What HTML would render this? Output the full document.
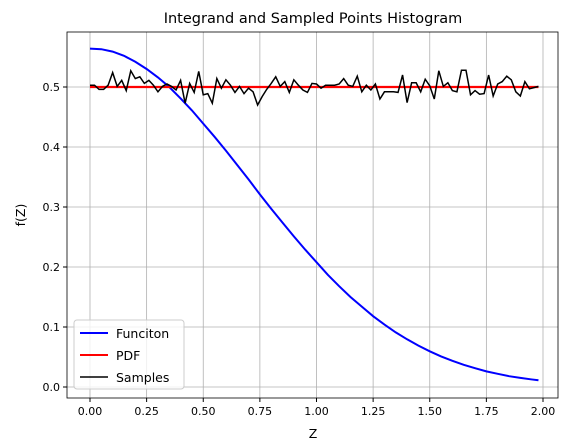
<!DOCTYPE html>
<html><head><meta charset="utf-8"><style>body{margin:0;background:#fff}svg{display:block;font-family:"DejaVu Sans","Liberation Sans",sans-serif}</style></head>
<body>
<svg id="chart" width="571" height="447" xmlns="http://www.w3.org/2000/svg">
<rect width="571" height="447" fill="#fff"/>
<text x="313" y="23" font-size="14.5" text-anchor="middle">Integrand and Sampled Points Histogram</text>
<g id="grid"></g><g id="series"></g><g id="axes"></g>
<text x="313" y="438" font-size="12.5" text-anchor="middle">Z</text>
<text transform="translate(25,215) rotate(-90)" font-size="12.5" text-anchor="middle">f(Z)</text>
<g>
<rect x="74" y="320" width="110" height="69" rx="3" fill="#fff" fill-opacity="0.8" stroke="#ccc"/>
<line x1="80" y1="333" x2="108" y2="333" stroke="#0000ff" stroke-width="2"/>
<text x="116" y="338" font-size="12.5">Funciton</text>
<line x1="80" y1="355" x2="108" y2="355" stroke="#ff0000" stroke-width="2"/>
<text x="116" y="360" font-size="12.5">PDF</text>
<line x1="80" y1="377" x2="108" y2="377" stroke="#000" stroke-width="1.5"/>
<text x="116" y="382" font-size="12.5">Samples</text>
</g>
</svg>
<script>
const funcZ = [0,0.05,0.1,0.15,0.2,0.25,0.3,0.35,0.4,0.45,0.5,0.55,0.6,0.65,0.7,0.75,0.8,0.85,0.9,0.95,1.0,1.05,1.1,1.15,1.2,1.25,1.3,1.35,1.4,1.45,1.5,1.55,1.6,1.65,1.7,1.75,1.8,1.85,1.9,1.95,1.98];
const funcValues = [0.564,0.563,0.559,0.552,0.542,0.530,0.516,0.500,0.481,0.461,0.439,0.417,0.394,0.370,0.346,0.321,0.297,0.274,0.251,0.229,0.208,0.187,0.168,0.150,0.134,0.118,0.104,0.091,0.0795,0.069,0.0595,0.051,0.0436,0.037,0.0313,0.026,0.022,0.018,0.0152,0.0126,0.0112];
const pdfZ = [0,1.98];
const pdfValues = [0.5,0.5];
const sampleValues = [0.503,0.503,0.496,0.496,0.503,0.524,0.501,0.511,0.494,0.527,0.514,0.517,0.506,0.511,0.503,0.492,0.501,0.505,0.501,0.495,0.511,0.473,0.506,0.491,0.526,0.487,0.489,0.473,0.514,0.498,0.512,0.503,0.491,0.501,0.489,0.498,0.492,0.470,0.484,0.496,0.506,0.517,0.501,0.509,0.491,0.512,0.503,0.495,0.491,0.506,0.505,
0.498,0.503,0.503,0.503,0.505,0.514,0.503,0.501,0.518,0.492,0.503,0.495,0.505,0.480,0.492,0.492,0.492,0.491,0.520,0.474,0.507,0.507,0.492,0.513,0.502,0.480,0.527,0.501,0.507,0.494,0.492,0.528,0.528,0.487,0.494,0.488,0.489,0.520,0.485,0.505,0.509,0.518,0.512,0.492,0.485,0.509,0.497,0.499,0.501];
const sampleStep = 0.02;
const xTicks = ["0.00","0.25","0.50","0.75","1.00","1.25","1.50","1.75","2.00"];
const yTicks = ["0.0","0.1","0.2","0.3","0.4","0.5"];
const L=67,R=558,T=32,B=398;
const xs=v=>90+(v)*226.5, ys=v=>387-v*600;
const NS="http://www.w3.org/2000/svg";
function mk(tag,parent,attrs){const e=document.createElementNS(NS,tag);for(const k in attrs)e.setAttribute(k,attrs[k]);document.getElementById(parent).appendChild(e);return e;}
xTicks.forEach(t=>{const x=xs(parseFloat(t));
const g=mk('line','grid',{x1:x,x2:x,y1:T,y2:B,stroke:'#b0b0b0','stroke-width':0.8});


mk('line','axes',{x1:x,x2:x,y1:B,y2:B+4,stroke:'#000'});
const tx=mk('text','axes',{x:x,y:B+17,'font-size':11,'text-anchor':'middle'});tx.textContent=t;

});
yTicks.forEach(t=>{const y=ys(parseFloat(t));
const g=mk('line','grid',{x1:L,x2:R,y1:y,y2:y,stroke:'#b0b0b0','stroke-width':0.8});


mk('line','axes',{x1:L-4,x2:L,y1:y,y2:y,stroke:'#000'});
const tx=mk('text','axes',{x:L-7,y:y+4,'font-size':11,'text-anchor':'end'});tx.textContent=t;

});
const fr=mk('rect','axes',{x:L,y:T,width:R-L,height:B-T,fill:'none',stroke:'#000','stroke-width':0.8});


const f=mk('polyline','series',{fill:'none',stroke:'#0000ff','stroke-width':2,points:funcZ.map((z,i)=>xs(z)+','+ys(funcValues[i])).join(' ')});


const p=mk('polyline','series',{fill:'none',stroke:'#ff0000','stroke-width':2.2,points:pdfZ.map((z,i)=>xs(z)+','+ys(pdfValues[i])).join(' ')});


const s=mk('polyline','series',{fill:'none',stroke:'#000','stroke-width':1.5,points:sampleValues.map((v,i)=>xs(i*sampleStep)+','+ys(v)).join(' ')});


</script>
</body></html>
